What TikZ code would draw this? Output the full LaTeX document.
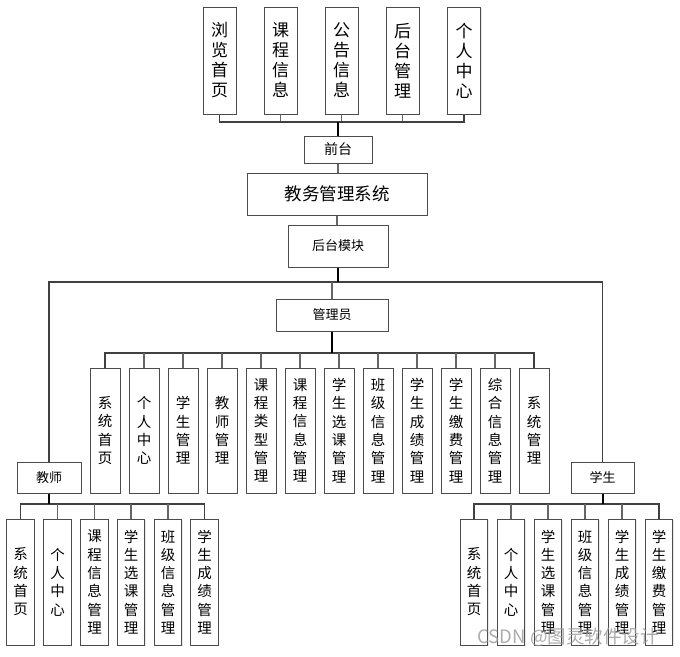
\documentclass[tikz,border=0pt]{standalone}
\usepackage{fontspec}
\setmainfont{Noto Sans CJK SC}
\usetikzlibrary{shadows}
\tikzset{
  box/.style={draw=black!70, line width=1pt, fill=white, inner sep=0pt, align=center,
    drop shadow={shadow xshift=1.2pt, shadow yshift=-1.2pt, opacity=0.18}},
  tbox/.style={box, minimum width=33pt, minimum height=107pt, font=\fontsize{17}{20}\selectfont},
  abox/.style={box, minimum width=30pt, minimum height=125pt, font=\fontsize{14.5}{18.3}\selectfont},
  cbox/.style={box, minimum width=27.5pt, minimum height=126pt, font=\fontsize{14.5}{18.3}\selectfont},
  hbox/.style={box, font=\fontsize{13}{15}\selectfont},
  drop/.style={draw=black!60, line width=1.3pt},
  bar/.style={draw=black!75, line width=1.1pt},
  trunk/.style={draw=black, line width=2pt},
}
\begin{document}
\begin{tikzpicture}[x=1pt,y=-1pt]
\useasboundingbox (0,0) rectangle (680,656);
\fill[white] (0,0) rectangle (680,656);

% top level boxes
\node[tbox] (t1) at (219.5,60.5) {浏\\览\\首\\页};
\node[tbox] (t2) at (280.5,60.5) {课\\程\\信\\息};
\node[tbox] (t3) at (341.5,60.5) {公\\告\\信\\息};
\node[tbox] (t4) at (402.5,60.5) {后\\台\\管\\理};
\node[tbox] (t5) at (464,60.5) {个\\人\\中\\心};

\node[hbox, minimum width=68pt, minimum height=27pt, font=\fontsize{14}{16}\selectfont] (qt) at (338,149.5) {前台};
\node[box, minimum width=180pt, minimum height=42pt, font=\fontsize{17.5}{20}\selectfont] (sys) at (337,194) {教务管理系统};
\node[hbox, minimum width=100pt, minimum height=42pt] (ht) at (338,246) {后台模块};
\node[hbox, minimum width=112pt, minimum height=32pt] (gly) at (332,315) {管理员};
\node[hbox, minimum width=64pt, minimum height=31pt] (js) at (49,477.5) {教师};
\node[hbox, minimum width=63pt, minimum height=31pt] (xs) at (602.5,477.5) {学生};

% admin children
\foreach \i/\t in {0/{系\\统\\首\\页},1/{个\\人\\中\\心},2/{学\\生\\管\\理},3/{教\\师\\管\\理},
  4/{课\\程\\类\\型\\管\\理},5/{课\\程\\信\\息\\管\\理},6/{学\\生\\选\\课\\管\\理},
  7/{班\\级\\信\\息\\管\\理},8/{学\\生\\成\\绩\\管\\理},9/{学\\生\\缴\\费\\管\\理},
  10/{综\\合\\信\\息\\管\\理},11/{系\\统\\管\\理}}
  \node[abox] (a\i) at ({105+39*\i},430.5) {\t};

% teacher children
\foreach \i/\x/\t in {0/20.5/{系\\统\\首\\页},1/57.5/{个\\人\\中\\心},2/94.5/{课\\程\\信\\息\\管\\理},
  3/131/{学\\生\\选\\课\\管\\理},4/168/{班\\级\\信\\息\\管\\理},5/204.5/{学\\生\\成\\绩\\管\\理}}
  \node[cbox] (c\i) at (\x,582) {\t};

% student children
\foreach \i/\x/\t in {0/474/{系\\统\\首\\页},1/511/{个\\人\\中\\心},2/548/{学\\生\\选\\课\\管\\理},
  3/585/{班\\级\\信\\息\\管\\理},4/622/{学\\生\\成\\绩\\管\\理},5/659/{学\\生\\缴\\费\\管\\理}}
  \node[cbox] (s\i) at (\x,582) {\t};

% connectors: top
\coordinate (topbar) at (0,122);
\foreach \i in {2,3,4} \draw[drop] (t\i.south) -- (t\i.south |- topbar);
\draw[bar] (t1.south) -- (t1.south |- topbar) -- (t5.south |- topbar) -- (t5.south);
\draw[trunk] (qt.north) -- (qt.north |- topbar);
\draw[drop] (qt.south) -- (qt.south |- sys.north);
\draw[drop] (sys.south) -- (sys.south |- ht.north);

% main bar
\coordinate (mainbar) at (0,282);
\draw[bar] (js.north) -- (js.north |- mainbar) -- (xs.north |- mainbar) -- (xs.north);
\draw[drop] (gly.north |- mainbar) -- (gly.north);
\draw[trunk] (ht.south) -- (ht.south |- mainbar);

% admin bar
\coordinate (abar) at (0,353);
\draw[bar] (a0.north) -- (a0.north |- abar) -- (a11.north |- abar) -- (a11.north);
\foreach \i in {1,...,10} \draw[drop] (a\i.north |- abar) -- (a\i.north);
\draw[trunk] (gly.south) -- (gly.south |- abar);

% teacher bar
\coordinate (cbar) at (0,504);
\draw[bar] (c0.north) -- (c0.north |- cbar) -- (c5.north |- cbar) -- (c5.north);
\foreach \i in {1,...,4} \draw[drop] (c\i.north |- cbar) -- (c\i.north);
\draw[trunk] (js.south) -- (js.south |- cbar);

% student bar
\draw[bar] (s0.north) -- (s0.north |- cbar) -- (s5.north |- cbar) -- (s5.north);
\foreach \i in {1,...,4} \draw[drop] (s\i.north |- cbar) -- (s\i.north);
\draw[trunk] (xs.south) -- (xs.south |- cbar);

% watermark
\node[text=black!40, opacity=0.8, font=\fontsize{18.5}{18.5}\selectfont, inner sep=0pt] (wm) at (568,637) {CSDN @图灵软件设计};
\end{tikzpicture}
\end{document}
